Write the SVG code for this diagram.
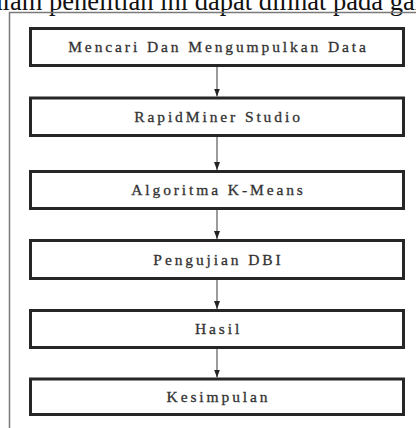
<svg xmlns="http://www.w3.org/2000/svg" width="416" height="428" viewBox="0 0 416 428">
<defs>
<style>
.box rect{fill:#fff;stroke:#262626;stroke-width:3}
.box text{font-family:"Liberation Serif","Times New Roman",serif;font-size:15.5px;letter-spacing:2.9px;fill:#333;stroke:#333;stroke-width:0.3;text-anchor:middle}
.conn line{stroke:#666;stroke-width:1.3}
</style>
<marker id="ah" viewBox="0 0 8 6" refX="8" refY="3" markerWidth="8" markerHeight="6" markerUnits="userSpaceOnUse" orient="auto">
<path d="M0,0 L8,3 L0,6 Z" fill="#222"/>
</marker>
</defs>
<rect width="416" height="428" fill="#fff"/>
<text x="-9.2" y="9.5" font-family="Liberation Serif,Times New Roman,serif" font-size="26.5" fill="#111">alam penelitian ini dapat dilihat pada gam</text>
<path d="M9.5,440 V12.5 H430" fill="none" stroke="#7a7a7a" stroke-width="1.5"/>
<g id="n1" class="box"><rect x="30.5" y="28.5" width="373" height="37"/><text x="218.5" y="51.5">Mencari Dan Mengumpulkan Data</text></g>
<g id="n2" class="box"><rect x="30.5" y="98" width="373" height="37.5"/><text x="218.5" y="121.5">RapidMiner Studio</text></g>
<g id="n3" class="box"><rect x="30.5" y="171.5" width="373" height="37"/><text x="218.5" y="195">Algoritma K-Means</text></g>
<g id="n4" class="box"><rect x="30.5" y="240.5" width="373" height="38"/><text x="218.5" y="264.5">Pengujian DBI</text></g>
<g id="n5" class="box"><rect x="30.5" y="310.5" width="373" height="37"/><text x="218.5" y="334">Hasil</text></g>
<g id="n6" class="box"><rect x="30.5" y="379" width="373" height="35.5"/><text x="218.5" y="402">Kesimpulan</text></g>
<g id="connectors" class="conn">
<line x1="217" y1="67" x2="217" y2="96.5" marker-end="url(#ah)"/>
<line x1="217" y1="137" x2="217" y2="170" marker-end="url(#ah)"/>
<line x1="217" y1="210" x2="217" y2="239" marker-end="url(#ah)"/>
<line x1="217" y1="280" x2="217" y2="309" marker-end="url(#ah)"/>
<line x1="217" y1="349" x2="217" y2="377.5" marker-end="url(#ah)"/>
</g>
</svg>
